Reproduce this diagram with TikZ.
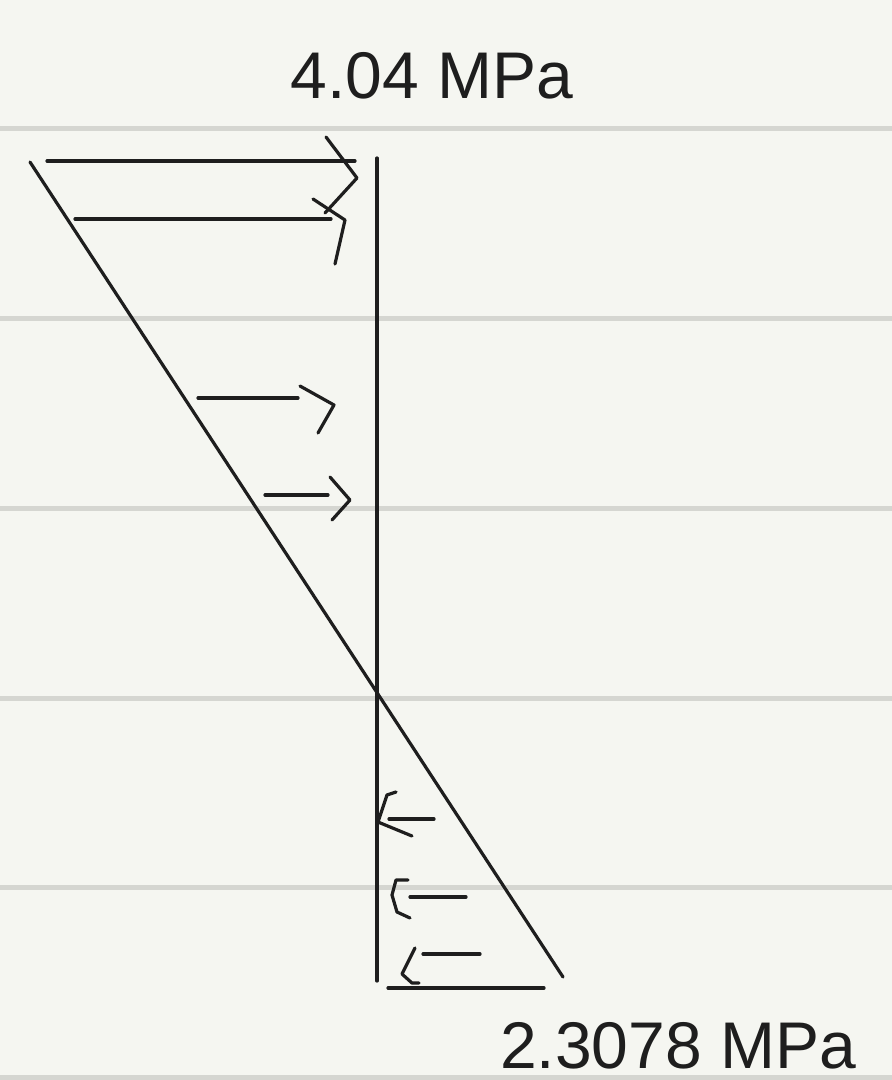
\documentclass[tikz,border=0pt]{standalone}
\usepackage{fontspec}
\setmainfont{Liberation Sans}
\usetikzlibrary{positioning}
\definecolor{paper}{HTML}{F5F6F1}
\definecolor{rulegray}{HTML}{D5D6D1}
\definecolor{ink}{HTML}{1E1E1E}

\begin{document}
\begin{tikzpicture}[
  x=1pt, y=-1pt,
  pen/.style={draw=ink, line width=3.2pt, line cap=round, line join=round},
  ruling/.style={draw=rulegray, line width=5pt},
  lab/.style={text=ink, font=\fontsize{66}{70}\selectfont, inner sep=0pt, anchor=base},
]

% ---------- ruled paper ----------
\fill[paper] (0,0) rectangle (892,1080);
\useasboundingbox (0,0) rectangle (892,1080);
\foreach \y in {128,318,508,698,887,1077}
  \draw[ruling] (0,\y) -- (892,\y);

% ---------- axis, stress line, base ----------
\coordinate (axtop) at (377,158);
\coordinate (axbot) at (377,981);
\coordinate (ltop) at (30,162);
\coordinate (lbot) at (563,977);
\draw[pen] (axtop) -- (axbot);
\draw[pen] (ltop) -- (lbot);
\draw[pen] (388,988) -- (544,988);

% ---------- compression arrows (pointing right) ----------
\draw[pen] (47,161) -- (355,161);
\draw[pen] (326,137) -- (357,178) -- (325,213);
\draw[pen] (75,219) -- (331,219);
\draw[pen] (313,199) -- (345,220) -- (335,264);
\draw[pen] (198,398) -- (298,398);
\draw[pen] (300,386) -- (334,405) -- (318,433);
\draw[pen] (265,495) -- (328,495);
\draw[pen] (330,477) -- (350,500) -- (332,520);

% ---------- tension arrows (pointing left) ----------
\draw[pen] (389,819) -- (434,819);
\draw[pen] (396,792) -- (387,795) -- (378,822) -- (412,836);
\draw[pen] (410,897) -- (466,897);
\draw[pen] (408,880) -- (396,880) -- (392,895) -- (397,912) -- (410,918);
\draw[pen] (423,954) -- (480,954);
\draw[pen] (415,948) -- (402,974) -- (412,983) -- (419,983);

% ---------- stress values ----------
\node[lab] (toplab) at (432,98) {4.04 MPa};
\node[lab] (botlab) at (678,1068) {2.3078 MPa};

\end{tikzpicture}
\end{document}
